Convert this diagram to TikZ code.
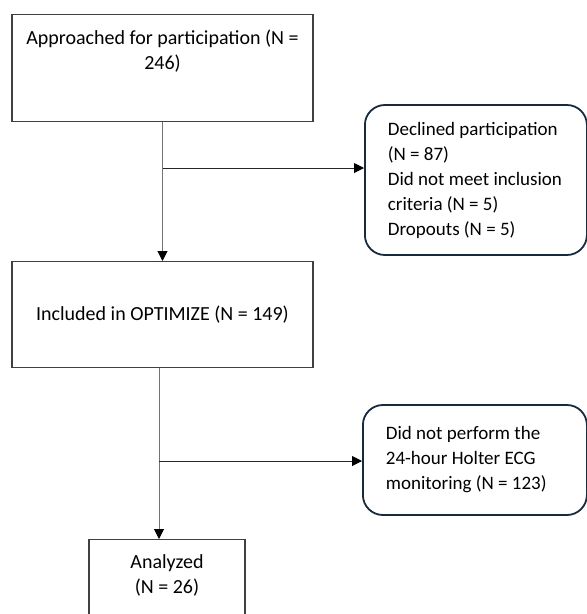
\documentclass[tikz,border=0pt]{standalone}
\usepackage{fontspec}
\setmainfont{Carlito}
\usetikzlibrary{arrows.meta}
\definecolor{navyline}{RGB}{23,43,61}

\begin{document}
\begin{tikzpicture}[x=1pt, y=-1pt,
    flowbox/.style={draw=black!75, line width=1.1pt, inner xsep=6pt, inner ysep=15pt,
        font=\fontsize{20}{25}\selectfont},
    sidebox/.style={draw=navyline, line width=1.8pt, rounded corners=20pt, anchor=west,
        align=flush left, inner xsep=23pt, inner ysep=0pt, font=\fontsize{19}{25}\selectfont},
    flowline/.style={draw=black!55, line width=1pt, -{Triangle[length=10pt,width=10pt,black]}}]
    \clip (0,0) rectangle (587,614);

    % Main boxes
    \node[flowbox, anchor=north] (approached) at (162.5,14)
        {\parbox[c][77pt][t]{289pt}{\centering Approached for participation (N =\\ 246)}};
    \node[flowbox, anchor=north, minimum width=301pt, minimum height=106pt] (included) at (162.5,261)
        {Included in OPTIMIZE (N = 149)};
    \node[flowbox, anchor=north] (analyzed) at (167,539)
        {\parbox[c][77pt][t]{144pt}{\centering Analyzed\\ (N = 26)}};

    % Exclusion boxes
    \node[sidebox, text width=176pt, minimum height=150pt] (excluded) at (364,180)
        {Declined participation\\ (N = 87)\\ Did not meet inclusion\\ criteria (N = 5)\\ Dropouts (N = 5)};
    \node[sidebox, text width=178pt, minimum height=110pt] (noholter) at (362,460)
        {Did not perform the\\ 24-hour Holter ECG\\ monitoring (N = 123)};

    % Arrows
    \coordinate (split1) at (162.5,168);
    \coordinate (split2) at (159,461);
    \draw[flowline] (approached) -- (included);
    \draw[flowline, draw=black!85] (split1) -- (split1 -| excluded.west);
    \draw[flowline] (included.south -| split2) -- (split2 |- analyzed.north);
    \draw[flowline, draw=black!85] (split2) -- (split2 -| noholter.west);
\end{tikzpicture}
\end{document}
